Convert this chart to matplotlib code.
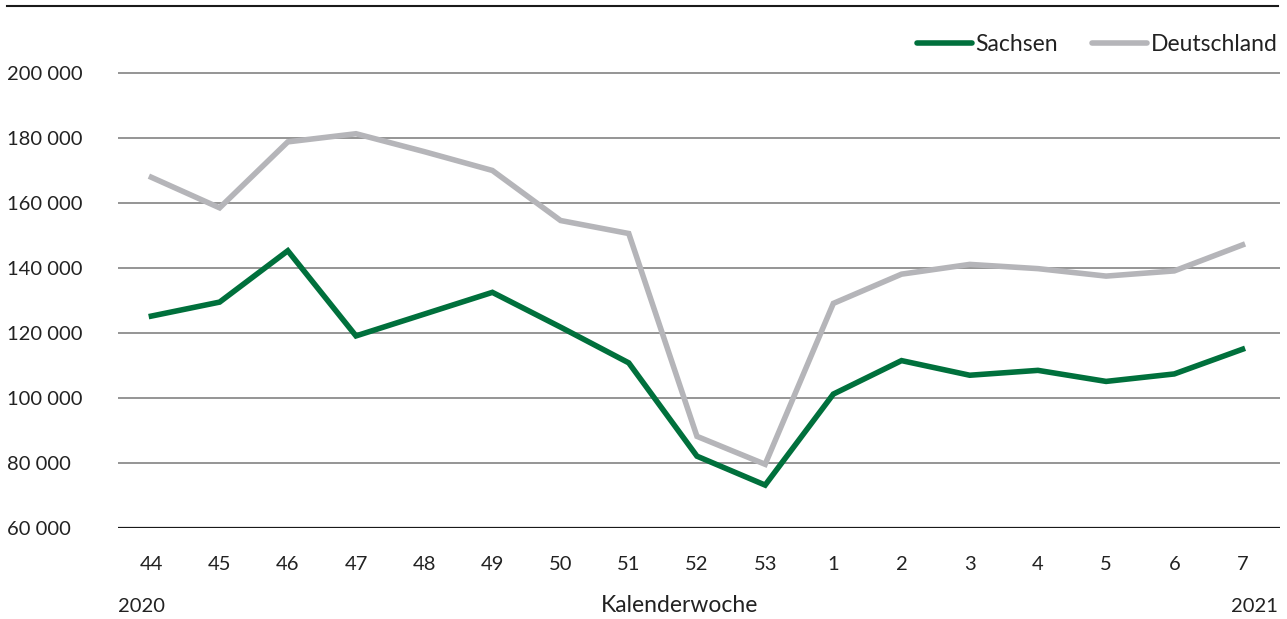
import matplotlib.pyplot as plt
from matplotlib.lines import Line2D

plt.rcParams['font.family'] = ['Lato', 'DejaVu Sans']

# Kalenderwochen 44/2020 bis 7/2021
weeks = ["44", "45", "46", "47", "48", "49", "50", "51", "52", "53",
         "1", "2", "3", "4", "5", "6", "7"]
sachsen = [125200, 129500, 145300, 119100, 125800, 132500, 121800, 110800,
           82100, 73200, 101200, 111500, 107000, 108500, 105100, 107400, 115000]
deutschland = [167900, 158500, 178800, 181300, 175800, 170000, 154600, 150600,
               88200, 79600, 129100, 138100, 141100, 139800, 137500, 139100, 147100]
yticks = [60000, 80000, 100000, 120000, 140000, 160000, 180000, 200000]

green = "#00703c"
grey = "#b5b5b9"
txt = "#222222"
fs = 14.5
fs_words = 16.5

fig = plt.figure(figsize=(12.87, 6.19), dpi=100)
ax = fig.add_axes([118 / 1287, (619 - 528) / 619, (1280 - 118) / 1287, (528 - 6) / 619])

x = list(range(len(weeks)))
ax.plot(x, deutschland, color=grey, lw=4, solid_joinstyle="miter", zorder=3)
ax.plot(x, sachsen, color=green, lw=4, solid_joinstyle="miter", zorder=4)

ax.set_xlim(-0.49, 16.55)
ax.set_ylim(60000, 220600)

for v in yticks[1:]:
    ax.axhline(v, color="#8c8c8c", lw=1.3, zorder=1)
ax.axhline(60000, color="#1a1a1a", lw=1.6, zorder=2)

for s in ax.spines.values():
    s.set_visible(False)

ax.set_yticks(yticks)
ax.set_yticklabels([f"{v:,}".replace(",", " ") for v in yticks])
ax.set_xticks(x)
ax.set_xticklabels(weeks)
ax.tick_params(axis="both", length=0, labelsize=fs, colors=txt)
ax.tick_params(axis="y", pad=0)
ax.tick_params(axis="x", pad=20)
for lbl in ax.get_yticklabels():
    lbl.set_horizontalalignment("left")
    lbl.set_x(-(118 - 7) / (1280 - 118))

# Jahr- und Achsenbeschriftung
fig.text(118 / 1287, 1 - 606 / 619, "2020", fontsize=fs, color=txt, va="center")
fig.text(1278 / 1287, 1 - 606 / 619, "2021", fontsize=fs, color=txt, va="center", ha="right")
fig.text(680 / 1287, 1 - 606 / 619, "Kalenderwoche", fontsize=fs_words, color=txt,
         va="center", ha="center")

# obere Linie
fig.add_artist(Line2D([7 / 1287, 1278 / 1287], [1 - 6 / 619, 1 - 6 / 619],
                      color="#1a1a1a", lw=1.5))

handles = [Line2D([], [], color=green, lw=4, solid_capstyle="round"),
           Line2D([], [], color=grey, lw=4, solid_capstyle="round")]
ax.legend(handles, ["Sachsen", "Deutschland"], loc="upper right",
          bbox_to_anchor=(1.0155, 0.985), ncol=2, frameon=False, fontsize=fs_words,
          handlelength=2.4, handletextpad=0.15, columnspacing=1.5,
          labelcolor=txt)

fig.savefig("out.png", dpi=100)
